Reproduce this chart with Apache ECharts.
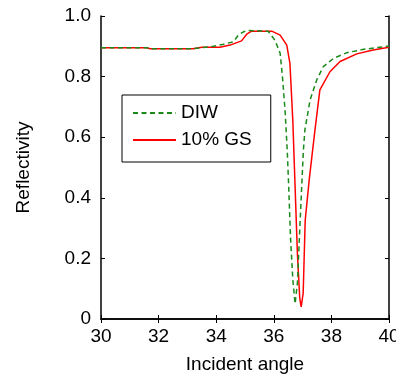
<!DOCTYPE html>
<html>
<head>
<meta charset="utf-8">
<script src="https://cdn.jsdelivr.net/npm/echarts@6/dist/echarts.min.js"></script>
<style>
  html, body { margin: 0; padding: 0; background: #fff; }
  #chart { width: 396px; height: 376px; }
</style>
</head>
<body>
<div id="chart"></div>
<script>
// DIW (deionised water) curve
const diwAngle = [30, 31.6, 31.7, 33.2, 33.9, 34.25, 34.6, 34.77, 34.95, 35.1, 35.8, 36.04, 36.22, 36.3, 36.39, 36.47, 36.52, 36.58, 36.66, 36.74, 36.82, 36.89, 36.97, 37.03, 37.08, 37.26, 37.49, 37.72, 38.07, 38.54, 39.12, 39.92, 40];
const diwR = [0.895, 0.895, 0.892, 0.892, 0.9, 0.907, 0.915, 0.937, 0.948, 0.952, 0.95, 0.92, 0.877, 0.8, 0.69, 0.55, 0.43, 0.27, 0.13, 0.05, 0.12, 0.27, 0.44, 0.56, 0.624, 0.723, 0.789, 0.833, 0.86, 0.879, 0.89, 0.9, 0.9];
// 10% GS curve
const gsAngle = [30, 31.6, 31.7, 33.2, 33.5, 34.13, 34.48, 34.88, 35.06, 35.23, 35.93, 36.22, 36.45, 36.56, 36.66, 36.74, 36.82, 36.9, 36.95, 37.02, 37.09, 37.23, 37.43, 37.6, 37.95, 38.3, 38.88, 39.45, 40];
const gsR = [0.895, 0.895, 0.892, 0.892, 0.897, 0.897, 0.904, 0.918, 0.94, 0.95, 0.95, 0.937, 0.904, 0.844, 0.656, 0.435, 0.215, 0.07, 0.04, 0.085, 0.325, 0.46, 0.624, 0.756, 0.816, 0.85, 0.875, 0.888, 0.897];
const seriesNames = ['DIW', '10% GS'];
const xTicks = [30, 32, 34, 36, 38, 40];
const yTicks = [0, 0.2, 0.4, 0.6, 0.8, 1.0];

const font = 'Liberation Sans, Arial, sans-serif';
const pair = (xs, ys) => xs.map((x, i) => [x, ys[i]]);

const chart = echarts.init(document.getElementById('chart'), null, {renderer: 'canvas'});

const axisLine = {show: true, lineStyle: {color: '#000', width: 1.5}};
const axisTick = {show: true, inside: true, length: 4, lineStyle: {color: '#000', width: 1}};

chart.setOption({
    animation: false,
    backgroundColor: '#fff',
    grid: {left: 101, right: 7, top: 16, bottom: 57, containLabel: false, outerBoundsMode: 'none'},
    legend: {
        orient: 'vertical',
        left: 122,
        top: 95,
        data: seriesNames,
        itemWidth: 43,
        itemHeight: 14,
        itemGap: 7,
        padding: [8, 19, 12, 10],
        borderColor: '#000',
        borderWidth: 1,
        itemStyle: {opacity: 0},
        textStyle: {fontFamily: font, fontSize: 19, color: '#000', lineHeight: 20, padding: [0, 0, 0, 0]}
    },
    xAxis: [{
        type: 'value',
        min: xTicks[0],
        max: xTicks[xTicks.length - 1],
        interval: 2,
        name: 'Incident angle',
        nameLocation: 'middle',
        nameGap: 36,
        nameTextStyle: {fontFamily: font, fontSize: 19, color: '#000'},
        axisLine: axisLine,
        axisTick: axisTick,
        splitLine: {show: false},
        axisLabel: {fontFamily: font, fontSize: 19, color: '#000', margin: 8}
    }, {
        type: 'value',
        position: 'top',
        min: xTicks[0],
        max: xTicks[xTicks.length - 1],
        interval: 2,
        axisLine: axisLine,
        axisTick: axisTick,
        axisLabel: {show: false},
        splitLine: {show: false}
    }],
    yAxis: [{
        type: 'value',
        min: yTicks[0],
        max: yTicks[yTicks.length - 1],
        interval: 0.2,
        name: 'Reflectivity',
        nameLocation: 'middle',
        nameGap: 68,
        nameTextStyle: {fontFamily: font, fontSize: 19, color: '#000'},
        axisLine: axisLine,
        axisTick: axisTick,
        splitLine: {show: false},
        axisLabel: {
            fontFamily: font, fontSize: 19, color: '#000', margin: 10,
            formatter: v => v === 0 ? '0' : v.toFixed(1)
        }
    }, {
        type: 'value',
        position: 'right',
        min: yTicks[0],
        max: yTicks[yTicks.length - 1],
        interval: 0.2,
        axisLine: axisLine,
        axisTick: axisTick,
        axisLabel: {show: false},
        splitLine: {show: false}
    }],
    series: [
        {
            name: seriesNames[0],
            type: 'line',
            symbol: 'none',
            data: pair(diwAngle, diwR),
            itemStyle: {color: '#1a8a1a'},
            lineStyle: {color: '#1a8a1a', width: 1.5, type: [5, 3.5]},
            z: 3
        },
        {
            name: seriesNames[1],
            type: 'line',
            symbol: 'none',
            data: pair(gsAngle, gsR),
            itemStyle: {color: '#ff0000'},
            lineStyle: {color: '#ff0000', width: 1.5},
            z: 2
        }
    ]
});
</script>
</body>
</html>
